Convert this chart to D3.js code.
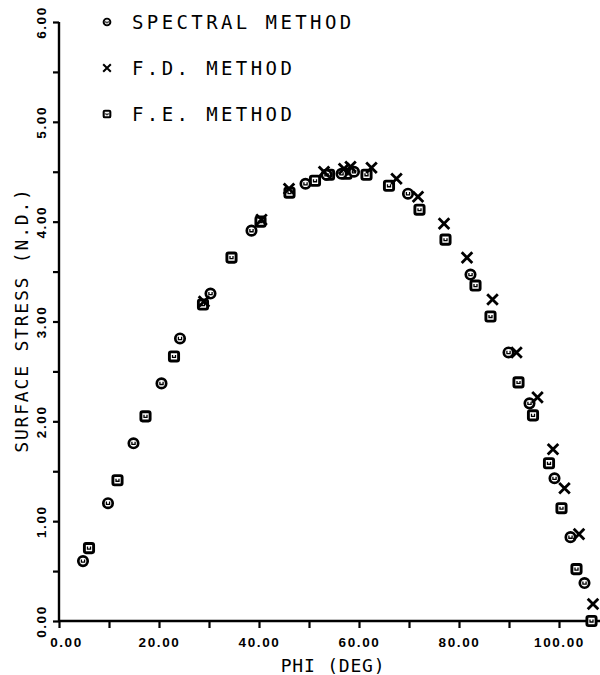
<!DOCTYPE html>
<html>
<head>
<meta charset="UTF-8">
<style>
  body { margin: 0; background: #fff; }
  svg { display: block; font-family: "DejaVu Sans Mono", monospace; }
</style>
</head>
<body>
<svg></svg>
<script src="https://d3js.org/d3.v7.min.js"></script>
<script>

let width = 600, height = 675;

// data (phi in degrees, surface stress N.D.)
let spectralPhi    = [4.8, 9.8, 14.9, 20.5, 24.2, 30.3, 38.5, 49.3, 53.5, 56.5, 59.0, 69.8, 82.3, 89.9, 94.1, 99.1, 102.3, 105.1];
let spectralStress = [0.60, 1.18, 1.78, 2.38, 2.83, 3.28, 3.91, 4.38, 4.47, 4.48, 4.50, 4.28, 3.47, 2.69, 2.18, 1.43, 0.84, 0.38];

let fdPhi    = [29.0, 40.5, 46.0, 53.0, 57.0, 58.3, 62.5, 67.5, 71.8, 77.0, 81.6, 86.7, 91.5, 95.7, 98.8, 101.1, 104.0, 106.8];
let fdStress = [3.20, 4.02, 4.33, 4.50, 4.53, 4.55, 4.54, 4.43, 4.25, 3.98, 3.64, 3.22, 2.69, 2.24, 1.72, 1.33, 0.87, 0.17];

let fePhi    = [6.0, 11.7, 17.3, 23.0, 28.8, 34.5, 40.3, 46.1, 51.2, 54.0, 57.5, 61.5, 66.0, 72.1, 77.3, 83.3, 86.3, 91.9, 94.8, 98.0, 100.5, 103.5, 106.5];
let feStress = [0.73, 1.41, 2.05, 2.65, 3.17, 3.64, 4.00, 4.29, 4.41, 4.47, 4.48, 4.47, 4.36, 4.12, 3.82, 3.36, 3.05, 2.39, 2.06, 1.58, 1.13, 0.52, 0.00];

let xTicks = [0, 20, 40, 60, 80, 100];
let yTicks = [0, 1, 2, 3, 4, 5, 6];
let legendNames = ["SPECTRAL METHOD", "F.D. METHOD", "F.E. METHOD"];

let svg = d3.select("svg")
    .attr("width", width)
    .attr("height", height);

let x = d3.scaleLinear().domain([0, 100]).range([59, 559]);
let y = d3.scaleLinear().domain([0, 6]).range([621, 22]);

// x axis, minor ticks every 10, labels every 20
let xAxis = d3.axisBottom(x)
    .tickValues(d3.range(0, 110, 10))
    .tickSize(7)
    .tickFormat(d => xTicks.includes(d) ? d3.format(".2f")(d) : "");

let gx = svg.append("g")
    .attr("transform", "translate(0," + y(0) + ")")
    .call(xAxis);
gx.select(".domain").remove();
gx.append("line").attr("x1", x(0)).attr("x2", width).attr("stroke", "#000").attr("stroke-width", 2.4);
gx.selectAll(".tick line").attr("stroke-width", 2.2);
gx.selectAll(".tick text")
    .attr("font-size", 13.5).attr("font-weight", "bold")
    .attr("letter-spacing", 1.6).attr("y", 26).attr("dy", 0).attr("fill", "#000")
    .attr("dx", d => d === 0 ? 7 : 0);

// y axis, ticks every 0.5
let yAxis = d3.axisLeft(y)
    .tickValues(d3.range(0, 6.5, 0.5))
    .tickSize(6)
    .tickFormat(d => yTicks.includes(d) ? d3.format(".2f")(d) : "");

let gy = svg.append("g")
    .attr("transform", "translate(" + x(0) + ",0)")
    .call(yAxis);
gy.select(".domain").remove();
gy.append("line").attr("y1", y(0)).attr("y2", y(6)).attr("stroke", "#000").attr("stroke-width", 2.4);
gy.selectAll(".tick line").attr("stroke-width", 2.2);
gy.selectAll(".tick text")
    .attr("font-size", 13.5).attr("font-weight", "bold").attr("letter-spacing", 1.6)
    .attr("fill", "#000")
    .attr("text-anchor", "middle")
    .attr("x", 0).attr("dy", 0)
    .attr("transform", "translate(-13,0) rotate(-90)");

// axis titles
svg.append("text")
    .attr("x", 333).attr("y", 672)
    .attr("text-anchor", "middle")
    .attr("font-size", 18).attr("letter-spacing", 0.8)
    .text("PHI (DEG)");

svg.append("text")
    .attr("transform", "translate(28,320) rotate(-90)")
    .attr("text-anchor", "middle")
    .attr("font-size", 18).attr("letter-spacing", 1.8)
    .text("SURFACE STRESS (N.D.)");

// marker drawers
function drawCircle(g) {
  g.append("circle").attr("r", 4.7).attr("fill", "#fff").attr("stroke", "#000").attr("stroke-width", 2.7);
  g.append("path").attr("d", "M-1.6,-1.6 L-1.6,1.1 L1.6,1.1 L1.6,-1.6").attr("fill", "none").attr("stroke", "#000").attr("stroke-width", 1.3);
}
function drawSquare(g) {
  g.append("rect").attr("x", -4.6).attr("y", -4.6).attr("width", 9.2).attr("height", 9.2).attr("rx", 1.6)
    .attr("fill", "#fff").attr("stroke", "#000").attr("stroke-width", 2.9);
  g.append("path").attr("d", "M-1.5,-1.5 L-1.5,1 L1.5,1 L1.5,-1.5").attr("fill", "none").attr("stroke", "#000").attr("stroke-width", 1.3);
}
function drawCross(g) {
  g.append("path").attr("d", "M-5.3,-5.3 L5.3,5.3 M-5.3,5.3 L5.3,-5.3").attr("stroke", "#000").attr("stroke-width", 2.8);
}

function plot(phi, stress, drawer) {
  let pts = phi.map((p, i) => ({p: p, s: stress[i]}));
  svg.append("g").selectAll("g")
    .data(pts)
    .enter()
    .append("g")
    .attr("transform", d => "translate(" + x(d.p) + "," + y(d.s) + ")")
    .each(function() { drawer(d3.select(this)); });
}

plot(fePhi, feStress, drawSquare);
plot(spectralPhi, spectralStress, drawCircle);
plot(fdPhi, fdStress, drawCross);

// legend
let drawers = [drawCircle, drawCross, drawSquare];
let legendY = [22, 68, 114];
legendNames.forEach((name, i) => {
  let g = svg.append("g").attr("transform", "translate(107," + legendY[i] + ")");
  let m = g.append("g").attr("transform", "scale(0.72)");
  drawers[i](m);
  g.append("text")
    .attr("x", 25).attr("y", 7)
    .attr("font-size", 19).attr("letter-spacing", 3.4)
    .text(name);
});

</script>
</body>
</html>
